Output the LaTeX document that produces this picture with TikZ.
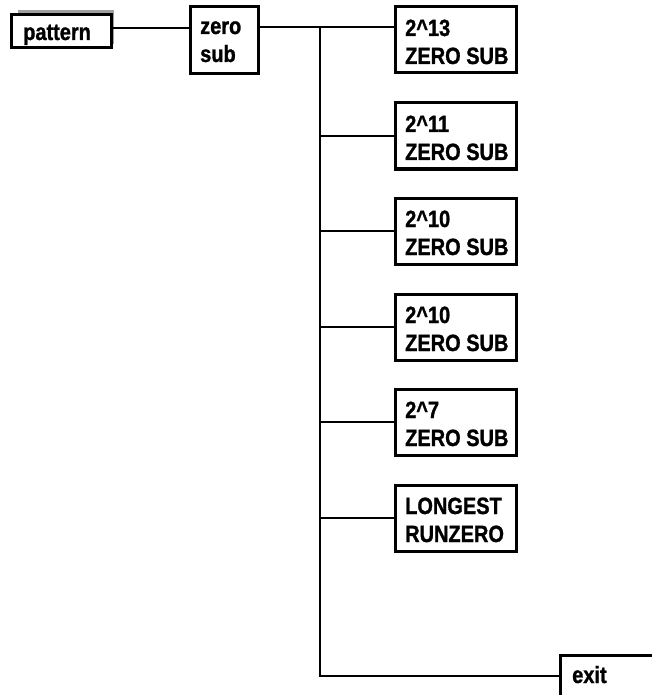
\documentclass[tikz,border=0pt]{standalone}
\usepackage{fontspec}
\newfontfamily\lblfont[FakeStretch=0.85,FakeBold=1.2]{Liberation Sans Bold}
\begin{document}
\begin{tikzpicture}[x=1pt,y=-1pt,
  box/.style={draw=black,line width=3pt,fill=white,anchor=north west,inner sep=0pt,outer sep=0pt},
  lbl/.style={anchor=base west,inner sep=0pt,font=\fontsize{23.5}{28}\selectfont\lblfont,align=left},
  conn/.style={draw=black,line width=2.6pt}]
\useasboundingbox (0,0) rectangle (651,695);
% pattern box with shadow
\fill[gray!75] (18,10) rectangle (114,44);
\node[box,minimum width=100pt,minimum height=33pt] (pat) at (11,15) {};
\node[lbl] (patt) at (23,40) {pattern};
% zero sub
\node[box,minimum width=68pt,minimum height=67pt] (zs) at (190,7) {};
\node[lbl] (zst) at (200,62) {zero\\sub};
% trunk
\coordinate (ttop) at (320,27);
\coordinate (tbot) at (320,676);
% right boxes
\foreach \i/\t/\a/\b in {1/7/2\^{}13/ZERO SUB,2/103/2\^{}11/ZERO SUB,3/198/2\^{}10/ZERO SUB,4/294/2\^{}10/ZERO SUB,5/389/2\^{}7/ZERO SUB,6/485/LONGEST/RUNZERO}{
  \node[box,minimum width=121pt,minimum height=66pt] (b\i) at (395,\t) {};
  \node[lbl] (b\i t) at (405,\t+57) {\a\\\b};
}
% exit box
\node[box,minimum width=100pt,minimum height=50pt] (ex) at (560,655) {};
\node[lbl] (ext) at (572,683) {exit};
% connectors
\draw[conn] (pat.east |- 0,28) -- (zs.west |- 0,28);
\draw[conn] (zs.east |- 0,27) -- (b1.west |- 0,27);
\draw[conn] (ttop) -- (tbot) -- (ex.west |- tbot);
\foreach \i/\y in {2/136,3/231,4/327,5/422,6/518}{
  \draw[conn] (320,\y) -- (b\i.west |- 0,\y);
}
\end{tikzpicture}
\end{document}
